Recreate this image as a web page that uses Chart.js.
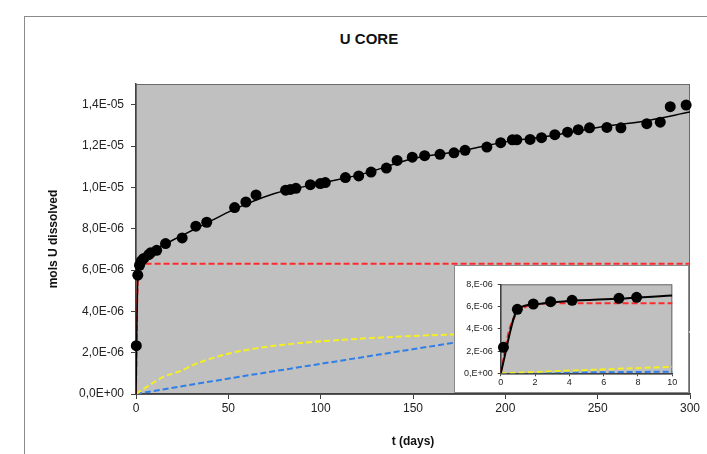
<!DOCTYPE html>
<html>
<head>
<meta charset="utf-8">
<script src="https://cdn.jsdelivr.net/npm/chart.js@4.4.0/dist/chart.umd.min.js"></script>
<style>
  body { margin: 0; background: #fff; font-family: "Liberation Sans", Arial, sans-serif; overflow: hidden; }
  #frame { position: absolute; left: 24px; top: 16px; width: 720px; height: 480px; border: 1px solid #8a8a8a; }
  #title { position: absolute; left: 369px; top: 30px; transform: translateX(-50%); font-weight: bold; font-size: 15px; color: #111; white-space: nowrap; }
  #main { position: absolute; left: 0; top: 0; }
  #insetBox { position: absolute; left: 454px; top: 265px; width: 235px; height: 128px; box-sizing: border-box; background: #fff; border: 1.5px solid #8a8a8a; }
  #inset { position: absolute; left: 455px; top: 266px; }
</style>
</head>
<body>
<div id="frame"></div>
<div id="title">U CORE</div>
<canvas id="main" width="707" height="454"></canvas>
<div id="insetBox"></div>
<canvas id="inset" width="232" height="125"></canvas>
<script>
// measured U dissolved (values in 1e-6 mol)
const sampleDays = [0.16, 0.97, 1.9, 2.91, 4.16, 6.89, 7.92, 11.2, 16, 25, 32.4, 38.3, 53.4, 59.5, 65,
  81, 83.6, 86.6, 94.4, 99.8, 102.5, 113.4, 120.6, 127.3, 135.6, 141.4, 149.6, 156.3, 164.6, 172.2,
  178.2, 190, 197.5, 203.8, 206.2, 213.4, 219.6, 226.8, 233.7, 239.5, 245.6, 255, 262.6, 276.6,
  283.9, 289.3, 297.9];
const sampleU = [2.34, 5.75, 6.23, 6.44, 6.56, 6.74, 6.83, 6.95, 7.28, 7.55, 8.12, 8.31, 9.02, 9.29, 9.63,
  9.86, 9.9, 9.95, 10.13, 10.18, 10.23, 10.47, 10.55, 10.74, 10.93, 11.3, 11.46, 11.53, 11.6, 11.67,
  11.79, 11.95, 12.16, 12.3, 12.3, 12.32, 12.4, 12.55, 12.67, 12.79, 12.88, 12.9, 12.88, 13.08,
  13.15, 13.9, 13.98];

// total model (black line)
const fitDays = [0, 1, 2, 3, 4, 7, 10, 15, 20, 30, 40, 50, 60, 75, 100, 125, 150, 175, 200, 225, 250, 275, 300];
const fitU = [0, 5.75, 6.2, 6.38, 6.5, 6.72, 7.0, 7.22, 7.45, 7.9, 8.35, 8.8, 9.2, 9.7, 10.2, 10.7, 11.4, 11.75, 12.2, 12.5, 12.9, 13.2, 13.64];

// fast component (red dashed)
const fastDays = [0, 0.5, 1, 1.5, 2, 3, 5, 300];
const fastU = [0, 3.9, 5.5, 6.0, 6.2, 6.28, 6.3, 6.3];

// intermediate component (yellow dashed)
const midDays = [0, 5, 10, 15, 24, 33, 51, 69, 87, 105, 134, 172, 220, 260, 300];
const midU = [0, 0.3, 0.58, 0.84, 1.11, 1.48, 1.97, 2.26, 2.45, 2.58, 2.74, 2.88, 2.95, 2.99, 3.0];

// slow component (blue dashed)
const slowDays = [0, 51, 105, 172, 240, 300];
const slowU = [0, 0.76, 1.53, 2.48, 3.45, 4.35];

const yTickLabels = ['0,0E+00', '2,0E-06', '4,0E-06', '6,0E-06', '8,0E-06', '1,0E-05', '1,2E-05', '1,4E-05'];
const insetYTickLabels = ['0,E+00', '2,E-06', '4,E-06', '6,E-06', '8,E-06'];

const FONT = '"Liberation Sans", Arial, sans-serif';
const xy = (xs, ys) => xs.map((x, i) => ({ x: x, y: ys[i] }));

const plotBg = {
  id: 'plotBg',
  beforeDraw(chart) {
    const { ctx, chartArea: a } = chart;
    ctx.save();
    ctx.fillStyle = '#c0c0c0';
    ctx.fillRect(a.left, a.top, a.right - a.left, a.bottom - a.top);
    ctx.strokeStyle = '#6a6a6a';
    ctx.lineWidth = 1;
    ctx.strokeRect(a.left, a.top + 0.5, a.right - a.left - 0.5, a.bottom - a.top);
    ctx.restore();
  }
};

function lineSet(xs, ys, color, width, dash) {
  return {
    data: xy(xs, ys),
    showLine: true,
    borderColor: color,
    borderWidth: width,
    borderDash: dash,
    pointRadius: 0,
    cubicInterpolationMode: 'monotone'
  };
}

function makeDatasets(maxDay) {
  const pts = xy(sampleDays, sampleU).filter(p => p.x <= maxDay);
  return [
    { data: pts, backgroundColor: '#000', borderWidth: 0, pointRadius: 5.5, clip: false },
    lineSet(fitDays, fitU, '#000', maxDay > 20 ? 1.5 : 2, []),
    lineSet(fastDays, fastU, '#ff2a2a', 2, [6, 3]),
    lineSet(midDays, midU, '#f4ee22', 2, [6, 3]),
    lineSet(slowDays, slowU, '#2f7fe6', 2, [6, 3])
  ];
}

new Chart(document.getElementById('main'), {
  type: 'scatter',
  data: { datasets: makeDatasets(300) },
  plugins: [plotBg],
  options: {
    responsive: false,
    animation: false,
    devicePixelRatio: 1,
    layout: { padding: { left: 42, right: 17, top: 84, bottom: 1 } },
    plugins: { legend: { display: false }, tooltip: { enabled: false } },
    scales: {
      x: {
        type: 'linear', min: 0, max: 300,
        afterFit: s => { s.height = 59; },
        ticks: { stepSize: 50, padding: 2, color: '#222', font: { family: FONT, size: 12 }, maxRotation: 0 },
        grid: { drawOnChartArea: false, tickLength: 5, color: '#404040' },
        border: { color: '#404040', width: 1.5 },
        title: { display: true, text: 't (days)', color: '#111', font: { family: FONT, size: 12, weight: 'bold' }, padding: { top: 4, bottom: 4 } }
      },
      y: {
        type: 'linear', min: 0, max: 15,
        afterFit: s => { s.width = 94; },
        afterBuildTicks: s => { s.ticks = s.ticks.filter(t => t.value <= 14.01); },
        ticks: { stepSize: 2, padding: 7, color: '#222', font: { family: FONT, size: 12 },
          callback: v => yTickLabels[Math.round(v / 2)] },
        grid: { drawOnChartArea: false, tickLength: 5, color: '#404040' },
        border: { color: '#404040', width: 1.5 },
        title: { display: true, text: 'mols U dissolved', color: '#111', font: { family: FONT, size: 12, weight: 'bold' }, padding: { top: 4, bottom: 4 } }
      }
    }
  }
});

new Chart(document.getElementById('inset'), {
  type: 'scatter',
  data: { datasets: makeDatasets(10) },
  plugins: [plotBg],
  options: {
    responsive: false,
    animation: false,
    devicePixelRatio: 1,
    layout: { padding: { left: 4, right: 14.7, top: 18.3, bottom: 0 } },
    plugins: { legend: { display: false }, tooltip: { enabled: false } },
    scales: {
      x: {
        type: 'linear', min: 0, max: 10,
        afterFit: s => { s.height = 17.7; },
        ticks: { stepSize: 2, padding: 1, color: '#222', font: { family: FONT, size: 9 }, maxRotation: 0 },
        grid: { drawOnChartArea: false, tickLength: 3, color: '#404040' },
        border: { color: '#404040', width: 1.5 }
      },
      y: {
        type: 'linear', min: 0, max: 8,
        afterFit: s => { s.width = 41.7; },
        ticks: { stepSize: 2, padding: 5, color: '#222', font: { family: FONT, size: 9 },
          callback: v => insetYTickLabels[Math.round(v / 2)] },
        grid: { drawOnChartArea: false, tickLength: 3, color: '#404040' },
        border: { color: '#404040', width: 1.5 }
      }
    }
  }
});
</script>
</body>
</html>
